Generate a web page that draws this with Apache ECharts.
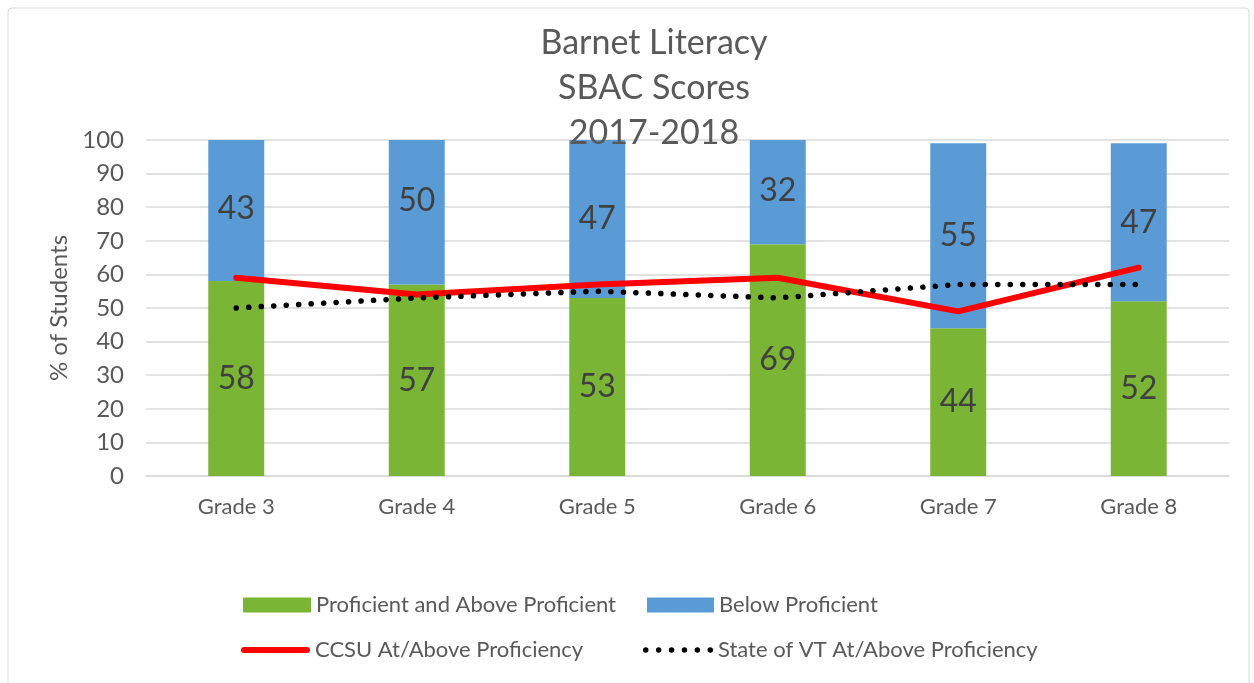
<!DOCTYPE html>
<html>
<head>
<meta charset="utf-8">
<script src="https://cdn.jsdelivr.net/npm/echarts@6/dist/echarts.min.js"></script>
<style>
html, body { margin: 0; padding: 0; background: #fff; }
#divChart { width: 1254px; height: 683px; }
</style>
</head>
<body>
<div id="divChart"></div>
<script>
var grades = ['Grade 3', 'Grade 4', 'Grade 5', 'Grade 6', 'Grade 7', 'Grade 8'];
var proficient = [58, 57, 53, 69, 44, 52];
var belowProficient = [43, 50, 47, 32, 55, 47];
var ccsu = [59, 54, 57, 59, 49, 62];
var stateVT = [50, 53, 55, 53, 57, 57];

var FONT = 'Lato, "Liberation Sans", sans-serif';
var myChart = echarts.init(document.getElementById('divChart'));

var GRID_TOP = 140, GRID_BOTTOM = 207, Y_MAX = 100;
var pxPerUnit = (683 - GRID_TOP - GRID_BOTTOM) / Y_MAX;

var barLabel = {
    show: true,
    position: 'inside',
    fontFamily: FONT,
    fontSize: 32,
    color: '#404040'
};

// stacks over 100 get clipped; keep the label at the middle of the full segment
var belowData = [];
for (var i = 0; i < belowProficient.length; i++) {
    var over = proficient[i] + belowProficient[i] - Y_MAX;
    if (over > 0) {
        belowData.push({ value: belowProficient[i], label: { offset: [0, -over / 2 * pxPerUnit] } });
    } else {
        belowData.push(belowProficient[i]);
    }
}

// six dots for the dotted legend swatch
var dotsIcon = 'path://';
for (var d = 0; d < 6; d++) {
    var cx = 2.75 + d * 12.9;
    dotsIcon += 'M' + (cx - 2.75) + ',2.75 A2.75,2.75 0 1,1 ' + (cx + 2.75) + ',2.75 A2.75,2.75 0 1,1 ' + (cx - 2.75) + ',2.75 Z ';
}

function oneLegend(name, left, top, w, h, icon) {
    return {
        left: left,
        top: top,
        itemWidth: w,
        itemHeight: h,
        textStyle: { fontFamily: FONT, fontSize: 22, color: '#595959' },
        data: [{ name: name, icon: icon }]
    };
}

var option = {
    backgroundColor: '#fff',
    animation: false,
    title: {
        text: 'Barnet Literacy\nSBAC Scores\n2017-2018',
        left: 649,
        textAlign: 'center',
        top: 16,
        textStyle: {
            fontFamily: FONT,
            fontSize: 34,
            fontWeight: 'normal',
            color: '#595959',
            lineHeight: 45
        }
    },
    graphic: [{
        type: 'rect',
        shape: { x: 8, y: 8, width: 1241, height: 700, r: 4 },
        style: { fill: 'none', stroke: '#d9d9d9', lineWidth: 1 },
        silent: true
    }],
    legend: [
        oneLegend('Proficient and Above Proficient', 238, 589, 68, 15, 'rect'),
        oneLegend('Below Proficient', 642, 589, 67, 15, 'rect'),
        oneLegend('CCSU At/Above Proficiency', 236, 634, 69, 6, 'path://M3,0H66A3,3 0 0,1 66,6H3A3,3 0 0,1 3,0Z'),
        oneLegend('State of VT At/Above Proficiency', 638, 634, 70, 5.5, dotsIcon)
    ],
    grid: {
        left: 146,
        right: 25,
        top: GRID_TOP,
        bottom: GRID_BOTTOM
    },
    xAxis: {
        type: 'category',
        data: grades,
        axisLine: { lineStyle: { color: '#d9d9d9', width: 1.5 } },
        axisTick: { show: false },
        axisLabel: {
            fontFamily: FONT,
            fontSize: 22,
            color: '#595959',
            margin: 20
        }
    },
    yAxis: {
        type: 'value',
        min: 0,
        max: Y_MAX,
        interval: 10,
        name: '% of Students',
        nameLocation: 'middle',
        nameGap: 63,
        nameTextStyle: { fontFamily: FONT, fontSize: 24, color: '#595959' },
        axisLine: { show: false },
        axisTick: { show: false },
        splitLine: { lineStyle: { color: '#d9d9d9', width: 1.5 } },
        axisLabel: {
            fontFamily: FONT,
            fontSize: 24,
            color: '#595959',
            margin: 22
        }
    },
    series: [{
        name: 'Proficient and Above Proficient',
        type: 'bar',
        stack: 'total',
        barWidth: '31%',
        itemStyle: { color: '#7ab535' },
        label: barLabel,
        data: proficient
    }, {
        name: 'Below Proficient',
        type: 'bar',
        stack: 'total',
        itemStyle: { color: '#5b9bd5' },
        label: barLabel,
        data: belowData
    }, {
        name: 'CCSU At/Above Proficiency',
        type: 'line',
        symbol: 'none',
        z: 5,
        itemStyle: { color: '#ff0000' },
        lineStyle: { color: '#ff0000', width: 6, cap: 'round', join: 'round' },
        data: ccsu
    }, {
        name: 'State of VT At/Above Proficiency',
        type: 'line',
        symbol: 'none',
        z: 6,
        itemStyle: { color: '#000' },
        lineStyle: { color: '#000', width: 5.5, type: [0.1, 12.4], cap: 'round' },
        data: stateVT
    }]
};

myChart.setOption(option);
</script>
</body>
</html>
